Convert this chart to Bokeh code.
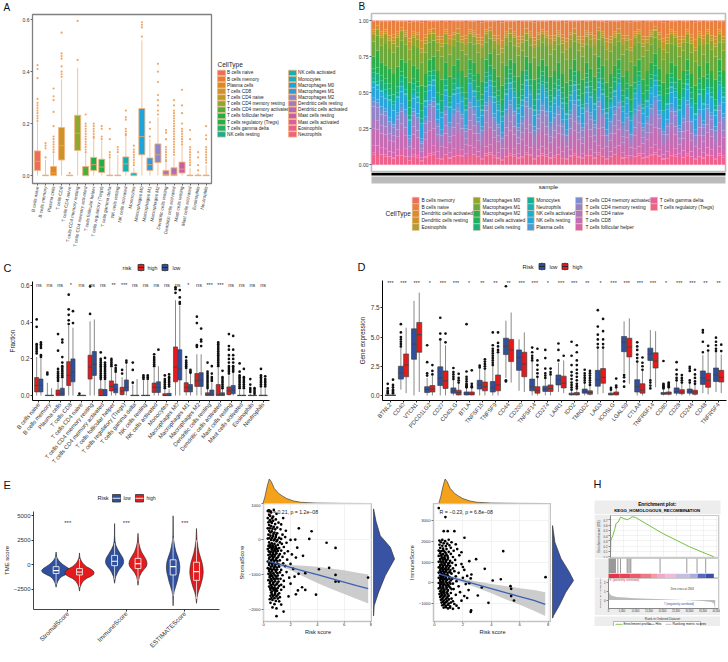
from bokeh.plotting import figure
from bokeh.layouts import column, row
from bokeh.models import Range1d, FixedTicker, Label, NumeralTickFormatter, ColumnDataSource
from bokeh.core.properties import value
from bokeh.embed import file_html
from bokeh.resources import INLINE
import math

FONT = "Liberation Sans"
cells = ["B cells naive","B cells memory","Plasma cells","T cells CD8","T cells CD4 naive","T cells CD4 memory resting","T cells CD4 memory activated","T cells follicular helper","T cells regulatory (Tregs)","T cells gamma delta","NK cells resting","NK cells activated","Monocytes","Macrophages M0","Macrophages M1","Macrophages M2","Dendritic cells resting","Dendritic cells activated","Mast cells resting","Mast cells activated","Eosinophils","Neutrophils"]
a_colors = ["#EE6C5C","#E87E35","#DB8A1E","#CC9428","#BD9A20","#8DA72F","#4FAD3B","#1FAF4A","#1FB04C","#1DB36F","#17AE93","#13B0B4","#17AFC5","#1CA4DC","#2D9BDC","#8A88C8","#A678BC","#B06EB2","#C65FA8","#D95F9E","#EC5E96","#F0627F"]
a_q1 = [.02,0,0,.06,0,.097,0,.02,.012,0,0,.015,0,.08,.02,.05,0,0,.01,0,0,0]
a_med = [.055,0,.01,.115,0,.163,0,.042,.033,0,0,.045,0,.15,.042,.08,.004,.005,.025,0,0,0]
a_q3 = [.095,.002,.035,.185,.002,.232,.035,.07,.063,.002,.002,.072,.01,.258,.068,.122,.02,.03,.052,.002,.002,.002]
a_whi = [.205,.06,.085,.37,.002,.415,.085,.14,.135,.065,.08,.15,.03,.52,.14,.225,.05,.07,.115,.03,.01,.04]
a_out = [[.21,.22,.23,.24,.25,.26,.27,.28,.295,.375,.41,.425],[.07,.105,.115,.125],[.09,.1,.11,.12,.13,.14,.15,.19,.245,.29,.305,.335],[.38,.39,.4,.42,.45,.46,.47,.55],[.01],[.445,.595],[.09,.1,.11,.12,.13,.14,.15,.16,.17,.18,.19,.2,.235],[.145,.15,.16,.17,.18,.19,.2],[.14,.15,.18,.19],[.07,.08,.09,.14,.18],[.09,.1,.11],[.155,.16,.17,.18,.215,.225,.25],[.04,.05,.06,.07,.08,.09,.1,.115],[.535,.57,.58,.59],[.15,.18,.205],[.235,.25,.27,.29,.31,.36,.40,.43],[.055,.06,.07,.08,.09,.1,.11,.14,.165,.175],[.08,.09,.1,.11,.12,.13,.14,.15,.16,.17,.18,.19,.2,.21,.22,.23,.24,.25,.27,.29],[.12,.13,.14,.15,.16,.17,.18,.2,.24,.27,.33],[.04,.05,.06,.07,.08,.09,.1,.11,.14,.175],[.02,.04,.07,.09],[.05,.06,.07,.08,.09,.1,.11,.14,.155,.19]]

c_sig = ["ns","ns","ns","*","ns","ns","ns","**","***","ns","ns","ns","ns","ns","*","ns","***","***","ns","ns","ns","ns"]
ch_q1 = [.02,0,0,.055,0,.09,0,.025,.005,0,0,.017,0,.075,.02,.05,0,0,.005,0,0,0]
ch_med = [.055,0,.01,.11,0,.155,0,.05,.025,0,0,.045,0,.155,.045,.08,.005,.005,.025,0,0,0]
ch_q3 = [.098,.002,.03,.185,.002,.22,.035,.08,.045,.002,.002,.068,.01,.265,.07,.12,.015,.06,.047,.002,.002,.002]
ch_whi = [.21,.07,.07,.38,.002,.405,.085,.15,.1,.06,.08,.15,.03,.52,.14,.225,.035,.15,.11,.03,.01,.04]
ch_out = [[.23,.24,.25,.26,.27,.28,.375,.415],[.115,.125],[.08,.09,.1,.11,.12,.13,.145,.245,.335],[.39,.41,.44,.47,.55],[.01],[.445,.595],[.09,.1,.11,.12,.13,.14,.15,.16,.17,.18,.19,.2,.235],[.16,.17,.18,.19,.2],[.12,.14],[.07,.14,.18],[.09,.1,.11],[.16,.17,.18,.19,.2,.21,.225],[.04,.05,.06,.07,.08,.09,.11],[.56,.58,.59],[.15,.16,.17,.18,.19,.21],[.265,.275,.395,.43],[.04,.05,.06,.07,.08,.09,.1,.11,.12,.13,.18],[.16,.17,.18,.19,.2,.21,.22,.23,.24,.25,.26,.27,.28,.29],[.12,.13,.14,.15,.16,.18,.2,.22,.25,.27,.335],[.04,.05,.06,.07,.08,.09,.1,.11,.13,.175],[.02,.03,.04,.06,.09],[.05,.06,.07,.08,.09,.1,.11,.145]]
cl_q1 = [.02,0,0,.075,0,.11,0,.015,.025,0,0,.017,0,.085,.02,.05,0,0,.01,0,0,0]
cl_med = [.055,0,.012,.13,0,.17,0,.035,.045,0,0,.045,0,.145,.04,.085,.005,.005,.03,0,0,0]
cl_q3 = [.09,.002,.04,.2,.002,.24,.033,.063,.085,.002,.002,.075,.012,.25,.06,.125,.03,.015,.055,.002,.002,.002]
cl_whi = [.2,.04,.09,.37,.002,.415,.08,.125,.17,.09,.08,.16,.035,.49,.12,.225,.07,.035,.125,.03,.01,.04]
cl_out = [[.21,.22,.26,.27,.28,.29],[],[.1,.11,.12,.13,.14,.15,.16,.18,.21,.29,.305],[.395,.46],[],[],[.09,.1,.11,.12,.13,.14,.15,.16,.17,.18,.205],[.13,.14,.15,.165],[.18,.19],[],[.09,.1,.11],[.25],[.05,.06,.07,.08,.09,.1,.115],[.5,.51,.535,.575],[.125,.13,.14],[.27,.295,.305,.365],[.08,.09,.1,.12,.16],[.04,.05,.06,.07,.08,.09,.1,.135],[.13,.14,.15,.16,.18,.2,.22,.25,.325],[.04,.05,.06,.07,.08,.09,.1,.145],[.01,.02,.03,.04],[.05,.06,.07,.08,.09,.105]]

genes = ["BTNL2","CD40","VTCN1","PDCD1LG2","CD27","CD40LG","BTLA","TNFSF15","TNFSF9","CD44","CD200","TNFSF14","CD274","LAIR1","IDO2","TMIGD2","LAG3","ICOSLG","LGALS9","CTLA4","TNFRSF14","CD80","CD28","CD244","CD48","TNFRSF4"]
d_sig = ["***","***","***","*","***","***","*","**","**","**","***","***","*","***","***","**","*","***","***","***","***","*","***","***","**","**"]
dl_q1 = [0,1.4,3.1,.25,.85,.2,.05,.55,.3,3.5,2.15,.4,.35,.9,.05,.2,.8,.05,3.75,.3,3,.1,.2,.2,.95,1.2]
dl_med = [0,1.95,4.4,.5,1.5,.4,.15,.9,.65,4.2,3.25,.75,.55,1.35,.1,.35,1.35,.1,4.55,.75,3.55,.15,.35,.35,1.5,1.75]
dl_q3 = [.05,2.5,5.7,.75,2.45,.65,.3,1.3,1.2,4.9,3.9,1.4,.8,1.75,.2,.55,2.15,.2,5.05,1.35,4.05,.25,.65,.55,2.1,2.35]
dl_wlo = [0,.5,0,0,0,0,0,0,0,1.5,.4,0,0,.3,0,0,.1,0,1.9,0,1.4,0,0,0,.2,.3]
dl_whi = [.15,4.1,8.1,1.5,4.7,1.3,.65,2.3,2.5,6.4,4.8,2.9,1.4,2.8,.4,1,4,.4,6.35,2.8,5.6,.5,1.2,1,3.45,3.7]
dl_out = [[.2,.3,.4,.6,1.0],[4.2,4.4,4.6,4.8,5,5.4,6.1],[],[1.7,1.9,2.85,4.3],[4.8,5.3,6.65],[1.4,1.6,1.8,2,2.35],[.7,.8,.9,1,1.2,1.4,1.6,2.05,6.1],[2.4,2.55],[2.6,2.8,3,3.2,3.4,3.6,3.8,4,4.3,5.4],[1.2,1.3,9.35],[],[3,3.2,3.4,3.7,4.1],[1.5,1.7,1.9,2.3,3.2,3.9],[3,3.9,4.45],[.5,.7,.9,1.1,1.4,1.7,2,2.6,3.4,4.6],[1.1,1.3,1.5,1.7,1.9,2.2],[4.1,4.4,4.8,5.2,5.9,7.3],[.5,.65],[1.75,1.55,1.2,.75],[2.9,3.2,3.5,3.9,4.2,4.55],[1.3,1.1,.85,.6],[.6,.7,.8,.9,1,2.95],[1.3,1.5,1.8,2.2,2.85],[1.1,1.3,2.1,2.3,2.45],[3.7,4.6,5.4,5.6],[3.8,4,4.3,4.6,4.95]]
dh_q1 = [0,1.6,3.7,.3,.6,.05,.05,.4,.4,2.9,1.6,.2,.35,.65,.05,.1,1.05,.05,3.3,.2,2.35,.1,.15,.1,.7,1.15]
dh_med = [0,2.6,5.2,.55,1.25,.25,.15,.75,.9,3.9,2.7,.4,.6,1.05,.1,.25,1.55,.15,4.15,.45,2.95,.2,.3,.3,1.3,1.55]
dh_q3 = [.05,3.55,6.25,.85,2.1,.45,.3,1.15,1.75,4.8,3.7,.75,.9,1.65,.25,.4,2.3,.3,4.9,1,3.65,.3,.5,.45,1.9,2.15]
dh_wlo = [0,.2,.3,0,0,0,0,0,0,1.1,.3,0,0,.2,0,0,.2,0,1,0,.7,0,0,0,.1,.2]
dh_whi = [.15,5.8,8.8,1.7,4.3,1,.65,2.2,3.6,7.1,5.4,1.5,1.7,3,.5,.85,4,.6,6.6,2.1,5.5,.6,1,.9,3.8,3.5]
dh_out = [[.2,.3,.4,.5,.7,.9,1.35],[],[],[1.8,2.1,2.6],[4.55,5.3],[1.1,1.3,1.5,1.85],[.7,.8,1,2.15],[2.3,2.5,2.7,2.9,3.1],[3.7,3.9,4.2,4.5,5.4],[],[],[1.6,1.9,2.2,2.6,3,4],[1.8,2,2.3],[3.4],[.6,.8,1,1.3,1.6,1.9,2.2,2.6,3,3.7,4.3],[.9,1.1,1.3,1.5,1.7,1.9,2.1],[4.1,4.4,4.8,5.5,6.55],[.7,.85,1.45],[],[2.2,2.5,2.8,3.25],[],[.7,.8,.9,1,1.1],[1.1,1.3,1.5,1.75],[1,1.2,1.5,1.8,2.2],[3.85,4.25],[3.8,4.35]]

b_series = ["Tregs","gamma","Tfh","CD8","naive","rest","act","plasma","NKrest","NKact","neut","mono","mastrest","mastact","M2","M1","M0","eos","DCrest","DCact","Bnaive","Bmem"]
b_legend = ["B cells memory","B cells naive","Dendritic cells activated","Dendritic cells resting","Eosinophils","Macrophages M0","Macrophages M1","Macrophages M2","Mast cells activated","Mast cells resting","Monocytes","Neutrophils","NK cells activated","NK cells resting","Plasma cells","T cells CD4 memory activated","T cells CD4 memory resting","T cells CD4 naive","T cells CD8","T cells follicular helper","T cells gamma delta","T cells regulatory (Tregs)"]
b_colors = ["#EE6C5C","#E88040","#DB8A30","#C9932A","#B59B30","#8FA52E","#6DA83A","#2DAE4A","#1FAF60","#1BB07C","#17AE93","#1BB0B0","#20ADCB","#2AA5DC","#4A9CD8","#7B8FD0","#9583C8","#AD79BF","#C46CB4","#D666AB","#E8609B","#F0608C"]
b_purple = [.44,.43,.38,.37,.30,.28,.34,.40,.36,.18,.37,.33,.16,.31,.42,.44,.29,.22,.38,.27,.36,.40,.35,.25,.43,.38,.30,.24,.41,.45,.33,.28,.20,.36,.42,.37,.26,.31,.44,.39,.24,.35,.41,.37,.27,.33,.38,.29,.22,.35,.42,.31,.26,.40,.34,.28,.44,.36,.22,.30,.38,.43,.27,.33,.21,.36,.41,.26,.31,.39,.45,.35,.23,.29,.40,.37,.25,.32,.42,.30,.22,.36,.28,.39,.34,.24,.41,.33]
b_teal = [.60,.58,.54,.52,.48,.44,.50,.58,.52,.34,.52,.50,.32,.47,.58,.62,.45,.40,.55,.43,.52,.56,.50,.41,.60,.54,.47,.41,.57,.62,.50,.44,.37,.52,.60,.53,.42,.48,.62,.55,.41,.52,.58,.53,.44,.49,.55,.46,.38,.51,.58,.48,.42,.57,.50,.45,.60,.52,.39,.46,.54,.60,.44,.49,.37,.53,.58,.42,.47,.56,.62,.51,.40,.45,.57,.53,.41,.49,.59,.46,.38,.52,.45,.56,.50,.41,.58,.50]
b_green = [.75,.79,.71,.69,.67,.63,.68,.73,.71,.57,.69,.67,.55,.63,.73,.75,.65,.59,.71,.61,.69,.73,.65,.61,.73,.71,.63,.58,.73,.77,.67,.61,.55,.69,.73,.71,.61,.65,.75,.71,.59,.69,.73,.69,.61,.65,.71,.63,.57,.67,.73,.65,.59,.71,.67,.61,.75,.69,.57,.63,.69,.73,.61,.65,.55,.69,.73,.59,.65,.71,.77,.67,.57,.63,.71,.69,.59,.65,.73,.63,.55,.69,.61,.71,.65,.59,.73,.65]
b_olive = [.90,.94,.88,.90,.86,.84,.88,.92,.89,.80,.88,.87,.78,.84,.90,.91,.85,.82,.90,.83,.87,.91,.85,.83,.90,.89,.84,.81,.90,.92,.86,.83,.78,.88,.91,.88,.82,.85,.91,.88,.81,.87,.90,.88,.83,.86,.89,.84,.80,.87,.91,.85,.82,.89,.87,.83,.92,.88,.80,.85,.88,.91,.83,.86,.79,.88,.90,.82,.85,.89,.93,.87,.80,.84,.90,.88,.82,.85,.90,.84,.79,.88,.83,.90,.86,.82,.90,.85]
b_weights_orange = [.12,.14,.12,.56,.06]
b_weights_olive = [.7,.3]
b_weights_green = [.25,.2,.55]
b_weights_teal = [.15,.45,.2,.05,.15]
b_weights_purple = [.16,.03,.12,.26,.15,.2,.08]

v_groups = ["StromalScore","ImmuneScore","ESTIMATEScore"]
v1l_y = [-2300,-2000,-1700,-1400,-1200,-1000,-800,-600,-400,-200,0,200,400,600,800,1300]
v1l_w = [0,.01,.03,.06,.1,.17,.23,.25,.22,.17,.12,.08,.05,.025,.01,0]
v1h_y = [-2700,-2300,-2000,-1700,-1400,-1200,-1000,-800,-600,-400,-200,0,200,400,600,800,1200]
v1h_w = [0,.01,.03,.06,.12,.19,.24,.25,.23,.18,.12,.08,.05,.03,.015,.005,0]
v2l_y = [-1900,-1500,-1200,-800,-500,-200,100,400,700,1000,1300,1600,2000,2400,3000,4200]
v2l_w = [0,.01,.02,.05,.08,.12,.15,.155,.14,.11,.08,.05,.02,.008,.002,0]
v2h_y = [-2100,-1600,-1200,-800,-500,-200,100,400,700,1000,1300,1700,2300,3200]
v2h_w = [0,.01,.025,.06,.1,.14,.155,.145,.12,.09,.06,.035,.01,0]
v3l_y = [-4200,-3200,-2700,-2200,-1700,-1200,-700,-200,300,800,1300,1800,2500,3000,5000]
v3l_w = [0,.005,.02,.045,.07,.09,.11,.115,.105,.08,.05,.03,.01,.003,0]
v3h_y = [-3950,-3300,-2800,-2300,-1800,-1300,-800,-300,200,700,1200,1800,2500,3700]
v3h_w = [0,.01,.03,.06,.085,.105,.115,.11,.095,.07,.045,.025,.008,0]
vl_q1 = [-900,-100,-1050]; vl_med = [-600,350,-200]; vl_q3 = [-200,950,500]; vl_wlo = [-2000,-1500,-3200]; vl_whi = [800,2200,2700]
vh_q1 = [-1050,-400,-1600]; vh_med = [-750,100,-700]; vh_q3 = [-400,650,250]; vh_wlo = [-2300,-1700,-3500]; vh_whi = [600,2200,2500]

top_x = [.3,.45,.6,.75,.9,1.1,1.4,1.7,2,2.5,3,4,5,6,7,7.8]
top_d = [0,.3,.7,1.0,.88,.62,.42,.3,.2,.1,.05,.02,.012,.005,.003,0]
fr_y = [860,500,100,-230,-560,-1030,-1500,-1880,-2170]
fr_d = [0,.12,.32,.8,1,.56,.24,.03,0]
gr_y = [2750,1950,1170,510,110,-450,-1090,-1570,-1700]
gr_d = [0,.11,.4,.8,1,.63,.32,.05,0]
fit_x = [.3,1,2,3,4,5,6,7,7.8]
ff_y = [-620,-695,-800,-900,-1005,-1110,-1215,-1320,-1400]
ff_u = [-530,-650,-730,-750,-780,-830,-880,-950,-1000]
ff_l = [-710,-740,-880,-1060,-1240,-1400,-1550,-1700,-1820]
gf_y = [430,290,110,-90,-280,-470,-660,-850,-1040]
gf_u = [530,360,200,60,-60,-150,-260,-350,-450]
gf_l = [330,220,10,-240,-500,-790,-1060,-1340,-1600]
f_pts = [(2.62,310),(3.57,226),(3.4,10),(4.69,-100),(5.36,-245),(4.12,-850),(4.88,-810),(5.36,-1010),(5.36,-1200),(5.6,-1200),(7.79,-1085),(3.9,-1570),(3.1,-960),(3.1,-1435),(2.86,-1360),(.95,-2180),(1.48,-2050),(2.93,-470),
(.3,800),(.36,820),(.42,810),(.5,790),(.55,760),(.75,830),(.95,720),(.4,690),(.7,640),(.3,600),(.9,560),(.45,540),(1.45,600),(.35,480),(.6,460),(.85,430),(.4,400),(1.1,470),(1.3,420),(.55,370),(.75,350),(1.0,330),(.3,310),(1.25,280),(1.65,240),
(.4,240),(.6,220),(.8,190),(1.0,170),(1.4,130),(.35,130),(.5,100),(.7,90),(.9,60),(1.15,40),(1.3,10),(1.6,60),(2.0,-20),(2.35,-10),(.3,20),(.55,-20),(.75,-30),(.95,-60),(1.2,-90),(.4,-90),(.6,-120),(.8,-130),(1.05,-160),(1.35,-130),(1.7,-100),(.35,-190),(.5,-200),(.7,-220),(.9,-230),(1.15,-250),(1.5,-220),(2.5,-240),(.3,-280),(.6,-290),(.85,-300),
(1.05,-330),(1.3,-320),(1.8,-340),(.45,-370),(.7,-390),(.95,-400),(1.2,-420),(1.55,-400),(2.1,-430),(.35,-450),(.6,-480),(.8,-490),(1.05,-510),(1.4,-500),(2.4,-520),(.4,-550),(.65,-570),(.9,-590),(1.2,-600),(1.75,-580),(.3,-630),(.55,-650),(.75,-670),(1.0,-690),(1.45,-680),(2.0,-700),(.4,-730),(.65,-750),(.85,-770),(1.15,-780),(1.6,-760),(.3,-820),(.5,-830),(.75,-850),(1.0,-860),(1.3,-870),(2.2,-840),(.4,-900),(.6,-910),(.9,-920),
(1.2,-940),(1.7,-930),(2.6,-980),(.35,-980),(.55,-1000),(.8,-1010),(1.05,-1030),(1.4,-1020),(.45,-1080),(.7,-1090),(.95,-1110),(1.25,-1120),(1.9,-1090),(2.3,-1060),(.35,-1160),(.6,-1170),(.85,-1190),(1.1,-1200),(1.5,-1180),(.45,-1250),(.7,-1270),(.95,-1280),(1.3,-1290),(2.0,-1260),(.4,-1340),(.6,-1350),(.8,-1370),(1.05,-1380),(1.5,-1350),(.5,-1430),(.75,-1440),(1.0,-1460),(1.3,-1430),(2.55,-1450),(.55,-1510),(.85,-1520),(1.15,-1530),(2.4,-1560),(.5,-1600),(.7,-1610),(.95,-1620),(1.2,-1640),(1.85,-1620),(.45,-1700),(.65,-1720),(.9,-1750),(1.15,-1760),(.5,-1800),(.8,-1840),(1.3,-1850),(.65,-1930),(.95,-1960)]
f_pts2 = [(.48,660),(.62,590),(.52,500),(.7,520),(.45,310),(.65,300),(.85,280),(.5,190),(.72,150),(.92,120),(.42,30),(.62,40),(.82,10),(1.02,-20),(.46,-150),(.66,-170),(.88,-190),(.44,-240),(.62,-250),(.8,-270),(1.0,-280),(.38,-340),(.55,-350),(.72,-330),(.88,-350),(.5,-430),(.68,-440),(.85,-440),(1.12,-460),(.45,-510),(.7,-530),(.95,-540),(.55,-600),(.78,-610),(1.02,-620),(.42,-680),(.62,-700),(.88,-710),(1.12,-720),(.52,-780),(.75,-800),(.98,-800),(.42,-850),(.62,-870),(.88,-870),(.5,-950),(.72,-960),(1.02,-960),(.45,-1040),(.62,-1040),(.9,-1050),(.55,-1130),(.8,-1130),(1.05,-1120),(.48,-1210),(.72,-1220),(1.0,-1250),(.55,-1300),(.82,-1310),(1.15,-1320),(.5,-1390),(.7,-1400),(.92,-1410),(.62,-1480),(.88,-1470),(.62,-1560),(.82,-1570),(1.05,-1570),(.58,-1660),(.8,-1670),(1.05,-1680)]
g_pts = [(.3,3590),(.77,3160),(2.11,2165),(4.84,1520),(2.93,1135),(3.54,670),(7.82,270),(4.1,110),(4.67,170),(5.35,-160),(5.4,-290),(5.4,-640),(5.6,-850),(3.8,-960),(3.05,-610),(3.33,-225),(2.6,400),(2.55,210),(2.45,-20),(.65,2480),(.93,2480),(1.4,2480),(2.58,-1330),(2.55,-1400),
(.35,2030),(.55,2060),(.75,2000),(1.0,2070),(.45,1950),(.65,1900),(.9,1880),(1.2,1950),(.35,1830),(.55,1780),(.8,1760),(1.05,1800),(1.5,1850),(.4,1680),(.6,1650),(.85,1620),(1.15,1680),(1.6,1620),(.3,1550),(.5,1530),(.7,1500),(1.0,1490),(1.35,1540),(1.9,1470),(.4,1420),(.6,1380),(.85,1350),(1.15,1390),(1.75,1320),(.3,1290),(.5,1250),(.7,1220),(.95,1200),(1.3,1240),(.4,1140),(.6,1110),(.8,1080),(1.1,1050),(1.45,1100),(2.45,1040),(.3,1010),(.5,970),(.7,940),(.95,920),(1.25,960),(1.9,900),(.4,860),(.6,830),(.85,790),(1.1,810),(1.5,850),(2.0,760),(.3,740),(.5,700),(.7,660),(.95,640),(1.3,690),(.4,600),(.6,570),(.8,540),(1.05,520),(1.4,560),(2.1,620),(.3,490),(.5,450),(.7,420),(.9,390),(1.2,440),(1.7,480),(.4,350),(.6,320),(.8,290),(1.05,270),(1.5,310),(2.3,330),(.3,240),(.5,200),(.7,170),(.9,150),(1.25,190),(2.0,240),(.4,100),(.6,70),(.8,50),(1.05,20),(1.55,80),(.3,-10),(.5,-50),(.7,-70),(.95,-100),(1.3,-40),(2.2,-60),(.4,-150),(.6,-180),(.85,-210),(1.1,-230),(1.7,-170),(.3,-270),(.5,-300),(.7,-330),(.95,-350),(1.35,-300),(2.4,-350),(.4,-410),(.6,-440),(.85,-470),(1.15,-490),(1.8,-450),(.35,-540),(.55,-570),(.75,-600),(1.0,-620),(1.5,-580),(2.1,-640),(.4,-680),(.6,-710),(.85,-740),(1.2,-760),(2.3,-730),(.45,-820),(.65,-850),(.9,-870),(1.3,-890),(1.9,-860),(.5,-950),(.7,-980),(1.0,-1000),(1.4,-1020),(.55,-1080),(.8,-1110),(1.1,-1130),(1.55,-1100),(.65,-1190),(.95,-1230),(1.3,-1250),(1.7,-1210)]
g_pts2 = [(.42,1500),(.62,1560),(.78,1440),(.48,1330),(.72,1300),(.92,1280),(.52,1180),(.72,1160),(.92,1120),(.42,1040),(.62,1020),(.82,1000),(1.05,960),(.5,890),(.72,860),(.95,850),(.4,780),(.6,760),(.8,720),(1.0,720),(.42,660),(.6,640),(.82,620),(1.12,610),(.45,530),(.68,500),(.92,480),(1.12,490),(.52,390),(.72,360),(.95,340),(.45,280),(.62,250),(.8,230),(1.05,200),(.42,170),(.6,140),(.85,120),(1.15,110),(.45,30),(.62,10),(.88,-20),(1.12,-50),(.42,-90),(.62,-110),(.82,-130),(1.02,-170),(.42,-220),(.62,-240),(.85,-280),(1.2,-300),(.48,-360),(.68,-390),(.92,-410),(.48,-490),(.68,-510),(.92,-540),(.48,-620),(.68,-650),(.92,-680),(.55,-770),(.78,-790),(1.02,-800),(.6,-910),(.82,-930),(1.15,-950),(.68,-1040),(.95,-1060),(.8,-1170),(1.1,-1190)]
h_es_x = [0,120,860,1600,2100,2840,3800,5060,6500,8150,9380,19900,29800,36000,39000]
h_es_y = [0,.31,.40,.52,.63,.65,.75,.72,.70,.755,.745,.435,.19,.06,0]
h_hits = [370,740,1110,1480,1850,2220,2590,3460,4440,6900,7280,7900,8270,19100,29000,32800,36000]
h_bar_edges = [0,4000,8000,12000,16000,18000,21000,25000,30000,33000,36000,39000]
h_bar_colors = ["#E8324A","#EA4355","#ED5A68","#F07882","#F39AA2","#EFA8CC","#F2B8D8","#C5BEE4","#A9AEDD","#5A68BE","#3D4CAE"]
h_met_x = [0,1000,3000,6000,10000,15000,20000,25000,28000,30000,35000,38000,39000,39500]
h_met_y = [.9,.5,.35,.28,.2,.14,.09,.04,0,-.03,-.12,-.22,-.35,-1]

RED = "#E41A1C"; BLUE = "#2F4F9F"

def fig(x0, y0, x1, y1, fl, ft, fr, fb, xr, yr, **kw):
    p = figure(width=x1-x0, height=y1-y0, x_range=Range1d(*xr), y_range=Range1d(*yr),
               min_border_left=fl-x0, min_border_right=x1-fr, min_border_top=ft-y0, min_border_bottom=y1-fb,
               toolbar_location=None, output_backend="svg", frame_align=False, **kw)
    p.grid.visible = False
    p.outline_line_color = None
    return p

def strip(x0, y0, x1, y1, **kw):
    p = figure(width=x1-x0, height=y1-y0, x_range=Range1d(x0, x1), y_range=Range1d(y1, y0),
               min_border=0, toolbar_location=None, output_backend="svg", x_axis_type=None, y_axis_type=None,
               frame_align=False, **kw)
    p.grid.visible = False
    p.outline_line_color = None
    return p

def txt(p, x, y, t, size, color="#222222", align="left", style="normal", angle=0):
    p.text(x=[x], y=[y], text=[t], text_font=value(FONT), text_font_size=f"{size}px", text_color=color,
           text_align=align, text_baseline="middle", text_font_style=style, angle=angle)

def letter(p, geom, px, py, t):
    fl, ft, fr, fb = geom
    xr, yr = p.x_range, p.y_range
    x = xr.start + (px-fl)/(fr-fl)*(xr.end-xr.start)
    y = yr.start + (fb-py)/(fb-ft)*(yr.end-yr.start)
    p.add_layout(Label(x=x, y=y, text=t, text_font=FONT, text_font_size="11px", text_color="#111111",
                       text_align="left", text_baseline="middle"))

def style(p, xsize=5, ysize=5, lab=6, color="#333333", axis_line="#000000", tick_line="#333333"):
    for ax, s in ((p.xaxis, xsize), (p.yaxis, ysize)):
        ax.major_label_text_font = FONT
        ax.major_label_text_font_size = f"{s}px"
        ax.major_label_text_color = color
        ax.axis_label_text_font = FONT
        ax.axis_label_text_font_style = "normal"
        ax.axis_label_text_font_size = f"{lab}px"
        ax.axis_label_text_color = "#222222"
        ax.minor_tick_line_color = None
        ax.major_tick_in = 0
        ax.major_tick_out = 2
        ax.major_tick_line_color = tick_line
        ax.axis_line_color = axis_line
        ax.major_label_standoff = 1

def boxes(p, xs, q1, med, q3, wlo, whi, out, w, fill, line, whisk, outc, osize, mw=1.0, lw=.7):
    p.segment(xs, wlo, xs, whi, line_color=whisk, line_width=1)
    p.vbar(x=xs, width=w, bottom=q1, top=q3, fill_color=fill, line_color=line, line_width=lw)
    p.segment([x-w/2 for x in xs], med, [x+w/2 for x in xs], med, line_color=line if outc != "#F0A868" else "#F0A868", line_width=mw)
    ox = [x for x, o in zip(xs, out) for _ in o]
    oy = [v for o in out for v in o]
    p.scatter(ox, oy, size=osize, marker="circle", fill_color=outc, line_color=None)

def key(p, x0, x1, y0, y1, fill, line, midline):
    p.segment([(x0+x1)/2], [y0-1], [(x0+x1)/2], [y1+1], line_color=midline, line_width=.7)
    p.quad(left=[x0], right=[x1], bottom=[y1], top=[y0], fill_color=fill, line_color=line, line_width=.8)
    p.segment([x0], [(y0+y1)/2], [x1], [(y0+y1)/2], line_color=midline, line_width=.9)

# ---------- A ----------
pos22 = list(range(1, 23))
aT = strip(0, 0, 215, 13)
txt(aT, 3, 6.5, "A", 10, color="#111111")
geoA = (32, 14, 211, 185)
A = fig(0, 13, 215, 250, *geoA, (.377, 22.67), (-.0304, .6198))
boxes(A, pos22, a_q1, a_med, a_q3, [0]*22, a_whi, a_out, .75, a_colors, "#F3B481", "#F3C49C", "#F0A868", 2.2, mw=.8, lw=.9)
A.outline_line_color = "#808080"; A.outline_line_width = 1.3
style(A, 4.6, 5, axis_line=None, tick_line="#666666")
A.xaxis.ticker = FixedTicker(ticks=pos22)
A.xaxis.major_label_overrides = {i+1: c for i, c in enumerate(cells)}
A.xaxis.major_label_orientation = math.radians(80)
A.yaxis.ticker = FixedTicker(ticks=[0, .2, .4, .6])
A.yaxis.formatter = NumeralTickFormatter(format="0.0")

aL = strip(215, 0, 350, 250)
txt(aL, 217, 64, "CellType", 6.5)
for i, (c, col) in enumerate(zip(cells, a_colors)):
    cx = 217 if i < 11 else 288
    yy = 72.4 + 6.15*(i % 11)
    aL.quad(left=[cx], right=[cx+8], bottom=[yy+2.7], top=[yy-2.7], fill_color=col, line_color="#F3B481", line_width=.8)
    txt(aL, cx+9.5, yy, c, 4.7)

# ---------- B ----------
bT = strip(350, 0, 728, 12)
txt(bT, 358, 6, "B", 10, color="#111111")
geoB = (371, 13, 725, 172)
B = fig(350, 12, 728, 172, *geoB, (-.5, 87.5), (-.053, 1.0485))
n = min(map(len, (b_purple, b_teal, b_green, b_olive)))
groups = [(0, b_purple, b_weights_purple), (b_purple, b_teal, b_weights_teal), (b_teal, b_green, b_weights_green),
          (b_green, b_olive, b_weights_olive), (b_olive, 1, b_weights_orange)]
data = {"x": list(range(n))}
k = 0
for lo, hi, wts in groups:
    for w in wts:
        vals = []
        for i in range(n):
            a = 0 if lo == 0 else lo[i]
            b = 1 if hi == 1 else hi[i]
            vals.append((b-a)*w)
        data[b_series[k]] = vals
        k += 1
stack_colors = list(reversed(b_colors))
B.vbar_stack(b_series, x="x", width=.93, color=stack_colors, source=ColumnDataSource(data), line_width=0)
B.outline_line_color = "#BDBDBD"; B.outline_line_width = 1.6
style(B, 5, 5, axis_line=None, tick_line="#666666")
B.xaxis.visible = False
B.yaxis.ticker = FixedTicker(ticks=[0, .25, .5, .75, 1])
B.yaxis.formatter = NumeralTickFormatter(format="0.00")

bL = strip(350, 172, 728, 250)
bL.quad(left=[371], right=[725], bottom=[175], top=[172], fill_color="#000000", line_color=None)
bL.quad(left=[371], right=[725], bottom=[183], top=[176], fill_color="#BBBBBB", line_color=None)
txt(bL, 548, 186.5, "sample", 6, align="center")
txt(bL, 385, 213, "CellType", 6.5)
col_x = [(411.7, 421), (472.7, 482), (526.7, 535.7), (575, 585), (650, 659.3)]
for i, (c, col) in enumerate(zip(b_legend, b_colors)):
    kx, tx = col_x[min(i//5, 4) if i < 20 else 4]
    r = i % 5 if i < 20 else i-20
    yy = 200 + 6.67*r
    bL.quad(left=[kx], right=[kx+7], bottom=[yy+3.3], top=[yy-3.3], fill_color=col, line_color="#E8C8A8", line_width=.5)
    txt(bL, tx, yy, c, 4.9)

# ---------- C ----------
cS = strip(0, 250, 355, 281)
txt(cS, 3, 267, "C", 11, color="#111111")
txt(cS, 122, 267, "risk", 5.8)
key(cS, 137.5, 143.5, 264, 270, RED, "#333333", "#222222")
txt(cS, 147, 267, "high", 5.3)
key(cS, 161.5, 167.5, 264, 270, BLUE, "#333333", "#222222")
txt(cS, 172, 267, "low", 5.3)
C = fig(0, 281, 355, 475, 32, 281, 269, 400, (.41, 22.6), (-.027, .622))
boxes(C, [i-.2 for i in pos22], ch_q1, ch_med, ch_q3, [0]*22, ch_whi, ch_out, .38, RED, "#444444", "#8A8A8A", "#111111", 2.7)
boxes(C, [i+.2 for i in pos22], cl_q1, cl_med, cl_q3, [0]*22, cl_whi, cl_out, .38, BLUE, "#444444", "#8A8A8A", "#111111", 2.7)
C.text(x=pos22, y=[.602]*22, text=c_sig, text_font=value(FONT), text_font_size="5.5px", text_color="#333333", text_align="center", text_baseline="middle")
style(C, 5.8, 6.3, 6.3)
C.xaxis.ticker = FixedTicker(ticks=pos22)
C.xaxis.major_label_overrides = {i+1: c for i, c in enumerate(cells)}
C.xaxis.major_label_orientation = math.radians(50)
C.yaxis.ticker = FixedTicker(ticks=[0, .2, .4, .6])
C.yaxis.formatter = NumeralTickFormatter(format="0.0")
C.yaxis.axis_label = "Fraction"
C.yaxis.axis_label_standoff = 2

# ---------- D ----------
dS = strip(355, 250, 728, 280)
txt(dS, 357, 266, "D", 11, color="#111111")
txt(dS, 522, 266, "Risk", 5.8)
key(dS, 538.5, 544.5, 263, 269, BLUE, "#333333", "#222222")
txt(dS, 549, 266, "low", 5.3)
key(dS, 561.5, 567.5, 263, 269, RED, "#333333", "#222222")
txt(dS, 572, 266, "high", 5.3)
pos26 = list(range(1, 27))
D = fig(355, 280, 728, 475, 377, 280, 726, 400, (.4, 26.6), (-.43, 9.84))
boxes(D, [i-.2 for i in pos26], dl_q1, dl_med, dl_q3, dl_wlo, dl_whi, dl_out, .38, BLUE, "#444444", "#8A8A8A", "#111111", 2.7)
boxes(D, [i+.2 for i in pos26], dh_q1, dh_med, dh_q3, dh_wlo, dh_whi, dh_out, .38, RED, "#444444", "#8A8A8A", "#111111", 2.7)
D.text(x=pos26, y=[9.6]*26, text=d_sig, text_font=value(FONT), text_font_size="5.5px", text_color="#333333", text_align="center", text_baseline="middle")
style(D, 5.8, 6.3, 6.3)
D.xaxis.ticker = FixedTicker(ticks=pos26)
D.xaxis.major_label_overrides = {i+1: g for i, g in enumerate(genes)}
D.xaxis.major_label_orientation = math.radians(50)
D.yaxis.ticker = FixedTicker(ticks=[0, 2.5, 5, 7.5])
D.yaxis.formatter = NumeralTickFormatter(format="0.0")
D.yaxis.axis_label = "Gene expression"
D.yaxis.axis_label_standoff = 2

# ---------- E ----------
eS = strip(0, 475, 235, 511)
txt(eS, 3, 484, "E", 11, color="#111111")
txt(eS, 97, 497.7, "Risk", 5.8)
key(eS, 112, 120, 494, 501.5, BLUE, "#333333", "#FFFFFF")
txt(eS, 123, 497.7, "low", 4.8)
key(eS, 135, 143, 494, 501.5, RED, "#333333", "#FFFFFF")
txt(eS, 146, 497.7, "high", 4.8)
E = fig(0, 511, 235, 654, 33, 511, 219, 621, (.414, 3.593), (-4581, 5437))
for i, (ly, lw, hy, hw) in enumerate([(v1l_y, v1l_w, v1h_y, v1h_w), (v2l_y, v2l_w, v2h_y, v2h_w), (v3l_y, v3l_w, v3h_y, v3h_w)]):
    cl = i+1-.2; ch = i+1+.2
    E.patch([cl-w for w in lw]+[cl+w for w in reversed(lw)], ly+ly[::-1], fill_color=BLUE, line_color="#222222", line_width=.6)
    E.patch([ch-w for w in hw]+[ch+w for w in reversed(hw)], hy+hy[::-1], fill_color=RED, line_color="#222222", line_width=.6)
    E.segment([cl], [vl_wlo[i]], [cl], [vl_whi[i]], line_color="#EEEEEE", line_width=.8)
    E.segment([ch], [vh_wlo[i]], [ch], [vh_whi[i]], line_color="#EEEEEE", line_width=.8)
    E.vbar(x=[cl], width=.1, bottom=[vl_q1[i]], top=[vl_q3[i]], fill_color=BLUE, line_color="#EEEEEE", line_width=.9)
    E.vbar(x=[ch], width=.1, bottom=[vh_q1[i]], top=[vh_q3[i]], fill_color=RED, line_color="#EEEEEE", line_width=.9)
    E.segment([cl-.05], [vl_med[i]], [cl+.05], [vl_med[i]], line_color="#FFFFFF", line_width=1.2)
    E.segment([ch-.05], [vh_med[i]], [ch+.05], [vh_med[i]], line_color="#FFFFFF", line_width=1.2)
E.text(x=[1, 2, 3], y=[4240]*3, text=["***"]*3, text_font=value(FONT), text_font_size="6px", text_color="#333333", text_align="center", text_baseline="middle")
style(E, 6.4, 6, 6, axis_line="#444444")
E.xaxis.ticker = FixedTicker(ticks=[1, 2, 3])
E.xaxis.major_label_overrides = {i+1: g for i, g in enumerate(v_groups)}
E.xaxis.major_label_orientation = math.radians(45)
E.yaxis.ticker = FixedTicker(ticks=[-2500, 0, 2500, 5000])
E.yaxis.axis_label = "TME score"
E.yaxis.axis_label_standoff = 1

# ---------- F / G ----------
ORANGE = "#F5A21B"; DENS = "#3953A4"
def top_density(x0, x1, fl, xr, name, lx):
    g = (fl, 476, x1, 503)
    p = fig(x0, 475, x1, 503, *g, xr, (0, 1.1))
    p.xaxis.visible = False; p.yaxis.visible = False
    p.patch(top_x, top_d, fill_color=ORANGE, line_color="#444444", line_width=.7)
    letter(p, g, lx, 483, name)
    return p

def scatter_panel(x0, x1, fl, fr, xr, yr, pts, fy, fu, fl_, yticks, ylabel, note, nx):
    p = fig(x0, 503, x1, 654, fl, 503, fr, 621, xr, yr)
    p.grid.visible = True
    p.grid.grid_line_color = "#EDEDED"
    p.grid.grid_line_width = .7
    p.patch(fit_x+fit_x[::-1], fu+fl_[::-1], fill_color="#BBBBBB", fill_alpha=.75, line_color=None)
    p.scatter([a for a, _ in pts], [b for _, b in pts], size=2.7, marker="circle", fill_color="#000000", line_color=None)
    p.line(fit_x, fy, line_color="#3B62B5", line_width=1.3)
    style(p, 4.2, 4.2, 5.6, axis_line=None, tick_line="#777777")
    p.xaxis.major_tick_out = 1
    p.xaxis.major_label_standoff = 0
    p.outline_line_color = "#C4C4C4"; p.outline_line_width = 1.5
    p.xaxis.ticker = FixedTicker(ticks=[0, 2, 4, 6, 8])
    p.yaxis.ticker = FixedTicker(ticks=yticks)
    p.xaxis.axis_label = "Risk score"
    p.yaxis.axis_label = ylabel
    p.xaxis.axis_label_standoff = 0
    p.yaxis.axis_label_standoff = 1
    p.text(x=[nx[0]], y=[nx[1]], text=[note], text_font=value(FONT), text_font_size="5.2px", text_color="#222222", text_baseline="middle")
    return p

def right_density(x0, x1, fr, ys, ds, yr):
    p = fig(x0, 503, x1, 654, x0, 503, fr, 621, (-.05, (fr-x0)/21-.05), yr)
    p.xaxis.visible = False; p.yaxis.visible = False
    p.patch(ds, ys, fill_color=DENS, line_color="#333333", line_width=.7)
    return p

F_xr = (-.02, 8.12); F_yr = (-2330, 1012)
Ft = top_density(235, 372, 258, F_xr, "F", 239)
F = scatter_panel(235, 372, 258, 372, F_xr, F_yr, f_pts+f_pts2, ff_y, ff_u, ff_l, [-2000, -1000, 0, 1000], "StromalScore", "R = 0.21, p = 1.2e\u221208", (.3, 770))
Fr = right_density(372, 400, 398, fr_y, fr_d, F_yr)
G_xr = (-.07, 8.24); G_yr = (-1860, 3812)
Gt = top_density(400, 551, 433, G_xr, "G", 414)
G = scatter_panel(400, 551, 433, 551, G_xr, G_yr, g_pts+g_pts2, gf_y, gf_u, gf_l, [-1000, 0, 1000, 2000, 3000], "ImmuneScore", "R = \u22120.23, p = 6.8e\u221208", (.35, 3400))
Gr = right_density(551, 590, 578, gr_y, gr_d, G_yr)

# ---------- H ----------
GREY = "#EDEDED"
hS = strip(590, 475, 728, 514)
txt(hS, 593, 483, "H", 11, color="#111111")
hS.quad(left=[594], right=[720], bottom=[514], top=[500], fill_color=GREY, line_color=None)
txt(hS, 656.7, 503.5, "Enrichment plot:", 4.8, align="center", style="bold", color="#000000")
txt(hS, 656.7, 510, "KEGG_HOMOLOGOUS_RECOMBINATION", 4.3, align="center", style="bold", color="#000000")
m = (0, 8, 0, 4)
hx = (0, 40740)
H1 = fig(594, 514, 720, 558, 608, 515, 718, 557, hx, (-.013, .78), margin=m, border_fill_color=GREY)
H1.grid.visible = True; H1.grid.grid_line_color = "#E6E6E6"; H1.grid.grid_line_width = .5
H1.line(h_es_x, h_es_y, line_color="#76C043", line_width=1)
style(H1, 2.6, 2.8, 3.2, axis_line="#888888", tick_line="#888888")
H1.outline_line_color = "#AAAAAA"; H1.outline_line_width = .6
H1.xaxis.visible = False
H1.xgrid.ticker = FixedTicker(ticks=list(range(0, 45000, 5000)))
H1.yaxis.ticker = FixedTicker(ticks=[0, .1, .2, .3, .4, .5, .6, .7])
H1.yaxis.formatter = NumeralTickFormatter(format="0.0")
H1.yaxis.axis_label = "Enrichment score (ES)"
H1.yaxis.axis_label_standoff = 0
H2 = fig(594, 558, 720, 578, 608, 558, 718, 578, hx, (0, 1), margin=m, border_fill_color=GREY)
H2.xaxis.visible = False; H2.yaxis.visible = False
H2.outline_line_color = "#AAAAAA"; H2.outline_line_width = .6
H2.segment(h_hits, [.27]*len(h_hits), h_hits, [1]*len(h_hits), line_color="#555555", line_width=.6)
H2.quad(left=h_bar_edges[:-1], right=h_bar_edges[1:], bottom=[.02]*11, top=[.24]*11, fill_color=h_bar_colors, line_color=None)
H3 = fig(594, 578, 720, 615, 608, 578, 718, 610, hx, (-.95, 2.42), margin=m, border_fill_color=GREY)
H3.varea(h_met_x, [0]*len(h_met_x), h_met_y, fill_color="#BBBBBB")
style(H3, 2.6, 2.8, 2.0, axis_line="#888888", tick_line="#888888")
H3.xaxis.major_tick_out = 1
H3.xaxis.major_label_standoff = 0
H3.outline_line_color = "#AAAAAA"; H3.outline_line_width = .6
H3.xaxis.ticker = FixedTicker(ticks=list(range(0, 45000, 5000)))
H3.xaxis.formatter = NumeralTickFormatter(format="0,0")
H3.yaxis.ticker = FixedTicker(ticks=[-1, 0, 1, 2])
H3.yaxis.axis_label = "Ranked list metric (Signal2Noise)"
H3.yaxis.axis_label_standoff = 0
H3.text(x=[300], y=[2.25], text=["'h' (positively correlated)"], text_font=value(FONT), text_font_size="2.8px", text_color="#D03040", text_baseline="middle")
H3.text(x=[23000], y=[1.3], text=["Zero cross at 2903"], text_font=value(FONT), text_font_size="2.8px", text_color="#333333", text_baseline="middle")
H3.text(x=[20500], y=[-.45], text=["'l' (negatively correlated)"], text_font=value(FONT), text_font_size="2.8px", text_color="#3040B0", text_baseline="middle")
H4 = strip(594, 615, 720, 626, margin=m, background_fill_color=GREY, border_fill_color=GREY)
txt(H4, 662, 616.8, "Rank in Ordered Dataset", 3.2, align="center", color="#333333")
H4.quad(left=[613], right=[700], bottom=[625.5], top=[620], fill_color="#FFFFFF", line_color="#777777", line_width=.5)
H4.segment([615], [622.8], [622], [622.8], line_color="#76C043", line_width=.9)
txt(H4, 623, 622.8, "Enrichment profile", 3.4, color="#111111")
H4.segment([648], [622.8], [654], [622.8], line_color="#555555", line_width=.6)
txt(H4, 655, 622.8, "Hits", 3.4, color="#111111")
H4.segment([665], [622.8], [671], [622.8], line_color="#BBBBBB", line_width=.9)
txt(H4, 672, 622.8, "Ranking metric scores", 3.4, color="#111111")

page = column(
    row(column(aT, A, spacing=0), aL, column(bT, B, bL, spacing=0), spacing=0),
    row(column(cS, C, spacing=0), column(dS, D, spacing=0), spacing=0),
    row(column(eS, E, spacing=0),
        column(Ft, row(F, Fr, spacing=0), spacing=0),
        column(Gt, row(G, Gr, spacing=0), spacing=0),
        column(hS, H1, H2, H3, H4, spacing=0), spacing=0),
    spacing=0)
open("out.html", "w").write(file_html(page, INLINE))
